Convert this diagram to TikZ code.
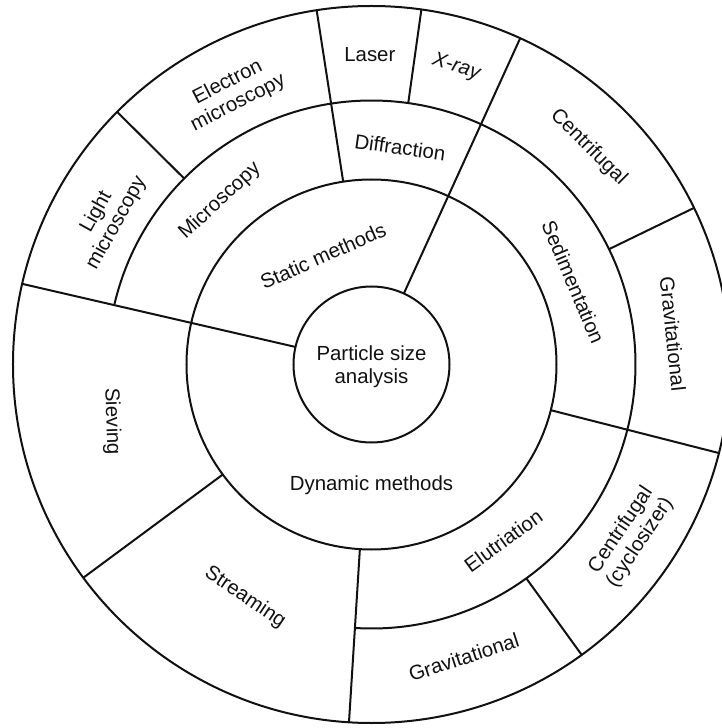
\documentclass[tikz,border=0pt]{standalone}
\usepackage{fontspec}
\setmainfont{Liberation Sans}
\usepackage{xcolor}
\definecolor{ChartInk}{HTML}{111111}
\usepackage{tikz}

\begin{document}
\begin{tikzpicture}[
  x=0.5pt, y=0.5pt,
  edge/.style={draw=ChartInk, line width=1pt},
  label/.style={font=\fontsize{10.2}{11.5}\selectfont, text=ChartInk,
                align=center, inner sep=0pt},
]
\useasboundingbox (-371.5,-363.5) rectangle (350.5,364.5);
\draw[edge] (0,0) circle (78);
\draw[edge] (0,0) circle (185);
\draw[edge] (0,0) circle (358.5);
\draw[edge] (-93.6:264) arc (-93.6:167:264);
\draw[edge] (65.5:78) -- (65.5:358.5);
\draw[edge] (167:78) -- (167:358.5);
\draw[edge] (98.8:185) -- (98.8:358.5);
\draw[edge] (-14.3:185) -- (-14.3:358.5);
\draw[edge] (-93.6:185) -- (-93.6:358.5);
\draw[edge] (216.5:185) -- (216.5:358.5);
\draw[edge] (82:264) -- (82:358.5);
\draw[edge] (135.2:264) -- (135.2:358.5);
\draw[edge] (25.9:264) -- (25.9:358.5);
\draw[edge] (-54.1:264) -- (-54.1:358.5);
\node[label] (psa) at (0,-2) {Particle size\\analysis};
\node[label, rotate=24] (static) at (114:119) {Static methods};
\node[label] (dynamic) at (-90:121) {Dynamic methods};
\node[label, rotate=43] (micro) at (132.8:223) {Microscopy};
\node[label, rotate=-8] (diffr) at (82.5:219) {Diffraction};
\node[label, rotate=-67] (sedim) at (22.2:218) {Sedimentation};
\node[label, rotate=36] (elutr) at (-53.2:220) {Elutriation};
\node[label, rotate=-34] (stream) at (-118.5:265) {Streaming};
\node[label, rotate=-88] (sieve) at (192.4:266) {Sieving};
\node[label, rotate=61] (lightmic) at (151:303) {Light\\microscopy};
\node[label, rotate=27] (elecmic) at (117:305) {Electron\\microscopy};
\node[label] (laser) at (90.3:310) {Laser};
\node[label, rotate=-18] (xray) at (74.1:309) {\itshape X-ray};
\node[label, rotate=-45] (sedcent) at (45:307) {Centrifugal};
\node[label, rotate=-84] (sedgrav) at (5.8:303) {Gravitational};
\node[label, rotate=56] (elucent) at (-33.6:311) {Centrifugal\\(cyclosizer)};
\node[label, rotate=18] (elugrav) at (-72.5:307) {Gravitational};
\end{tikzpicture}
\end{document}
